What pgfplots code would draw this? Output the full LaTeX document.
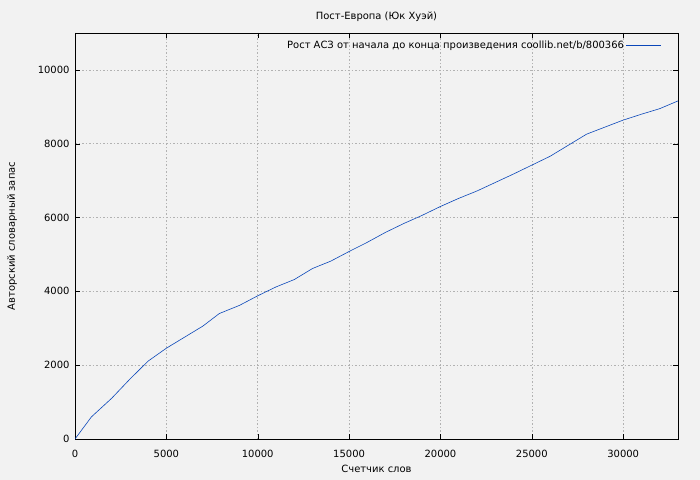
\documentclass[border=0pt]{standalone}
\usepackage{fontspec}
\setmainfont{DejaVu Sans}
\usepackage{pgfplots}
\pgfplotsset{compat=1.18}
\definecolor{bg}{RGB}{242,242,242}
\definecolor{curve}{RGB}{10,70,185}
\begin{document}
\begin{tikzpicture}
\path[use as bounding box, fill=bg] (0,0) rectangle (700bp,480bp);
\begin{axis}[
  at={(75bp,41bp)}, anchor=south west,
  scale only axis, width=603bp, height=406bp,
  xmin=0, xmax=33000, ymin=0, ymax=11000,
  xtick={0,5000,...,30000}, ytick={0,2000,...,10000},
  scaled ticks=false,
  /pgf/number format/assume math mode=true,
  /pgf/number format/set thousands separator={},
  tick label style={font=\fontsize{10}{12}\selectfont},
  xticklabel style={yshift=-8bp},
  yticklabel style={xshift=-2bp},
  label style={font=\fontsize{10}{12}\selectfont},
  title style={font=\fontsize{10}{12}\selectfont, yshift=2bp},
  title={Пост-Европа (Юк Хуэй)},
  xlabel={Счетчик слов}, ylabel={Авторский словарный запас},
  xlabel style={yshift=0bp},
  ylabel style={yshift=14bp},
  grid=major,
  major grid style={gray!60, line width=0.5pt, dash pattern=on 1.5bp off 2bp},
  tick align=inside, major tick length=5bp,
  tick style={black},
  axis line style={black, line width=0.8pt},
  legend style={at={(0.978,0.99)}, anchor=north east, draw=none, fill=none,
    font=\fontsize{10}{12}\selectfont},
  legend plot pos=right,
  legend cell align=right,
  legend image code/.code={\draw[#1] (4bp,0bp) -- (39bp,0bp);},
]
\addplot[curve, line width=0.6pt] coordinates {
(0,0) (900,600) (2000,1100) (3000,1620) (4000,2110) (5000,2460)
(6000,2760) (7000,3060) (7900,3400) (9000,3620) (10000,3880)
(11000,4120) (12000,4320) (13000,4620) (14000,4820) (15000,5080)
(16000,5330) (17000,5600) (18000,5840) (19000,6060) (20000,6300)
(21000,6520) (22000,6720) (23000,6950) (24000,7180) (25000,7420)
(26000,7660) (27000,7960) (28000,8260) (29000,8450) (30000,8640)
(31000,8800) (32000,8950) (33000,9160)
};
\addlegendentry{Рост АСЗ от начала до конца произведения coollib.net/b/800366}
\end{axis}
\end{tikzpicture}
\end{document}
